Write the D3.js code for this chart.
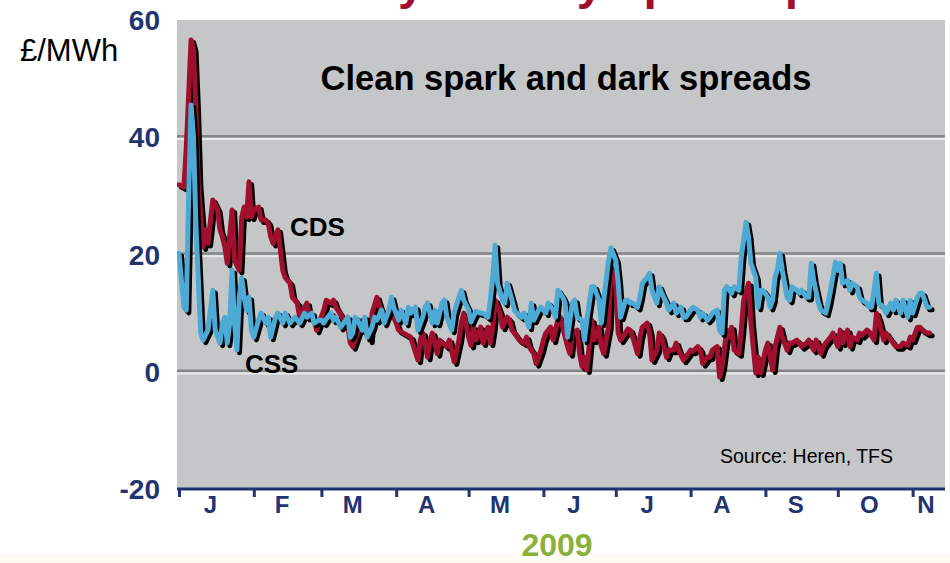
<!DOCTYPE html>
<html>
<head>
<meta charset="utf-8">
<script src="https://cdn.jsdelivr.net/npm/d3@7"></script>
<style>
  html, body { margin: 0; padding: 0; background: #ffffff; }
  svg { display: block; font-family: "Liberation Sans", Arial, sans-serif; }
</style>
</head>
<body>
<svg id="chart" width="950" height="563"></svg>
<script>
// ---- data -------------------------------------------------------------
const pageTitle = "Volatility in daily spark spreads";
const chartTitle = "Clean spark and dark spreads";
const unitLabel = "£/MWh";
const sourceNote = "Source: Heren, TFS";
const yearLabel = "2009";
const monthLabels = ["J", "F", "M", "A", "M", "J", "J", "A", "S", "O", "N"];
const yTickValues = [60, 40, 20, 0, -20];
const gridValues = [40, 20, 0];

// Clean dark spread (coal), £/MWh, by day of 2009 (0 = 1 January)
const cdsDays = [0,2,3,5,6,7,8,10,11,12,14,16,17,18,19,20,22,23,25,26,27,28,29,30,31,33,34,36,37,38,39,41,42,43,44,46,47,48,49,50,52,53,54,56,57,58,60,61,63,64,65,67,70,71,72,74,75,76,78,79,80,82,84,87,89,90,91,93,96,99,100,101,103,104,105,107,108,111,112,114,116,117,118,120,121,122,123,125,126,128,129,130,131,133,134,136,137,138,141,143,144,145,147,148,150,151,152,154,155,157,158,159,161,162,163,165,166,167,168,169,171,172,174,175,176,178,179,181,182,183,185,186,187,188,190,191,192,194,195,196,198,199,200,202,203,205,206,207,209,210,212,213,215,216,217,219,220,221,223,224,225,227,228,229,230,232,233,234,236,237,239,240,241,243,244,246,247,249,250,252,253,254,256,257,258,260,261,263,264,266,267,268,270,271,273,274,275,277,278,279,281,282,283,285,286,288,289,290,292,293,295,296,297,299,300,302,303,304,306,307,308,310,311];
const cdsValues = [31.9,31.5,38,56.6,55,45,32,21.3,24.2,21.9,29.3,27.6,24.2,23.0,21.3,18.5,27.6,19.0,17.3,26.4,28.1,26.4,32.4,26.4,27.6,28.1,25.9,25.9,25.3,23.0,21.9,24.2,20.8,17.3,16.1,15.1,12.7,12.2,11.7,9.3,11.0,11.7,9.3,8.8,7.1,8.3,10.5,12.2,11.7,12.2,11.0,9.7,7.6,4.9,4.3,6.6,7.6,8.8,8.8,5.4,10.0,12.7,10.0,10.0,9.3,8.3,7.1,6.6,5.9,2.0,5.4,6.6,2.5,5.4,6.6,3.1,5.4,4.3,5.4,1.7,5.4,8.3,10.0,5.9,4.5,7.6,5.4,7.6,4.9,7.6,4.9,7.6,12.2,10.0,7.6,9.3,8.8,7.1,5.4,4.9,5.9,4.3,3.1,1.4,3.7,5.4,6.6,7.6,5.4,8.8,9.3,7.6,4.3,3.1,6.6,7.1,3.1,0.9,2.5,0.3,8.8,5.4,7.6,4.3,3.1,7.6,17.9,14.5,6.6,5.4,6.6,7.3,7.1,5.9,3.1,5.9,7.6,8.3,6.6,2.0,3.7,6.6,5.9,2.5,3.7,3.7,4.9,3.7,2.0,2.5,3.7,3.5,4.3,3.7,1.4,2.5,2.5,3.7,4.3,-0.9,0.8,7.1,5.9,7.6,3.7,3.1,7.1,12.2,15.1,8.3,-0.2,2.5,-0.2,3.7,4.9,0.3,4.3,7.6,5.9,3.7,4.9,4.9,5.4,4.9,4.3,4.9,5.4,3.7,5.4,3.1,4.3,4.9,5.9,6.6,4.3,7.1,4.9,7.1,4.3,5.9,5.4,6.6,6.2,7.1,6.8,5.4,10.0,8.8,5.4,6.6,5.4,4.9,4.3,4.3,4.9,4.5,5.9,5.4,7.6,7.6,7.1,6.6,6.6];

// Clean spark spread (gas), £/MWh, by day of 2009
const cssDays = [0,2,3,4,5,6,7,9,10,12,13,14,15,17,18,19,20,21,22,23,24,25,26,27,28,29,30,31,33,34,36,37,38,40,41,43,44,46,48,50,52,53,55,56,58,59,60,61,63,64,65,67,70,71,72,73,74,76,77,78,80,81,82,84,85,87,88,89,91,92,94,95,96,98,99,101,102,103,105,106,107,109,110,111,113,114,116,117,118,120,121,123,125,126,128,129,130,131,132,134,135,136,138,139,140,142,143,145,146,147,149,150,152,153,155,156,157,159,160,161,163,164,165,167,168,169,171,172,174,175,176,178,179,181,182,183,185,186,187,188,190,191,192,194,195,196,198,199,200,202,203,205,206,208,209,210,212,213,215,216,217,219,220,221,223,224,225,226,227,229,230,232,233,235,236,237,239,240,241,242,244,245,246,247,248,249,250,252,253,254,256,257,258,260,261,262,263,265,266,268,269,270,272,273,274,275,277,278,279,281,282,283,285,286,287,289,290,292,293,295,296,297,299,300,302,303,304,306,307,308,310,311];
const cssValues = [20.2,11.0,10.5,30,45.5,40,25,6.6,5.4,7.1,10.5,13.9,7.1,4.9,8.3,9.3,4.9,8.3,17.3,8.3,3.7,12.7,16.0,12.7,10.5,12.7,7.1,5.9,8.8,10.0,8.3,9.3,5.9,9.3,10.0,8.3,10.0,8.3,9.3,8.3,10.0,9.3,10.0,8.3,8.8,8.8,8.3,9.0,10.0,8.8,9.3,7.6,9.3,5.9,6.6,9.3,8.8,7.1,9.3,5.9,7.6,9.3,8.8,10.5,8.3,10.5,12.7,11.0,8.8,10.5,8.3,11.0,10.0,11.0,7.1,9.3,11.0,11.7,8.3,10.5,8.3,11.7,12.2,9.3,7.1,10.0,12.7,13.9,12.2,10.5,8.5,10.3,10.0,10.0,9.3,12.2,16.1,21.6,15.1,12.2,11.7,15.1,12.2,10.5,10.0,9.3,10.0,7.6,11.7,8.8,10.5,11.0,10.0,11.7,10.5,9.3,13.9,12.7,11.7,5.9,11.7,12.2,9.3,8.8,5.4,8.8,14.5,14.5,12.2,8.3,12.2,19.0,21.1,19.0,15.1,9.3,12.2,12.2,11.7,11.7,11.0,12.7,15.1,16.1,16.8,13.9,11.7,14.5,13.4,11.7,10.5,11.7,10.0,11.0,9.3,9.3,10.5,11.0,10.5,9.3,10.0,8.8,9.3,10.0,10.5,7.1,6.6,13.9,14.5,13.4,14.5,13.9,19.6,25.5,23.0,18.5,16.1,11.0,13.9,13.9,12.7,11.0,12.2,16.1,17.5,20.2,17.3,12.7,12.2,14.5,13.9,13.4,13.9,12.7,12.7,18.5,15.6,11.7,10.5,10.0,11.7,13.9,18.7,17.3,18.5,15.1,15.6,13.9,15.1,14.5,12.7,12.2,11.7,11.0,11.0,16.8,11.7,11.0,10.0,11.7,10.5,12.2,10.0,12.2,9.3,12.2,10.0,12.7,13.4,13.4,11.0,11.0];

// ---- layout -----------------------------------------------------------
const svg = d3.select("#chart");
const W = 950, H = 563;
const plot = { left: 177, right: 945, top: 20, bottom: 489 };
const navy = "#1f3471";
const red = "#a0102e";
const blue = "#4caad4";

const dayToDate = d => new Date(2009, 0, 1 + d);
const startDate = new Date(2009, 0, 1);
const endDate = new Date(2009, 10, 14);

const x = d3.scaleTime().domain([startDate, endDate]).range([179, 944]);
const y = d3.scaleLinear().domain([-20, 60]).range([plot.bottom, plot.top]);

const cds = cdsDays.map((d, i) => ({ date: dayToDate(d), value: cdsValues[i] }));
const css = cssDays.map((d, i) => ({ date: dayToDate(d), value: cssValues[i] }));

// faint band along the foot of the slide
svg.append("rect").attr("x", 0).attr("y", 554).attr("width", W).attr("height", H - 554)
  .attr("fill", "#fcfcf4");

// slide heading running off the top edge: only its descenders fall on the page
const headingSize = 48;
const heading = svg.append("text")
  .attr("fill", red).attr("font-weight", "bold").attr("font-size", headingSize)
  .attr("x", 0).attr("y", -1).text(pageTitle);
{
  const node = heading.node();
  const off = node.getStartPositionOfChar(pageTitle.indexOf("y")).x;
  heading.attr("x", 398 - off);
}

// plot background
svg.append("rect")
  .attr("x", plot.left).attr("y", plot.top)
  .attr("width", plot.right - plot.left).attr("height", plot.bottom - plot.top)
  .attr("fill", "#c5c6c8");

// gridlines: dark rule with a light highlight underneath
const grid = svg.append("g");
gridValues.forEach(v => {
  grid.append("line").attr("x1", plot.left).attr("x2", plot.right)
    .attr("y1", y(v) - 1).attr("y2", y(v) - 1)
    .attr("stroke", "#848587").attr("stroke-width", 2.6);
  grid.append("line").attr("x1", plot.left).attr("x2", plot.right)
    .attr("y1", y(v) + 1.8).attr("y2", y(v) + 1.8)
    .attr("stroke", "#e9e9ea").attr("stroke-width", 2);
});

// series lines with offset drop shadows
const line = d3.line().x(d => x(d.date)).y(d => y(d.value));
svg.append("clipPath").attr("id", "plotClip").append("rect")
  .attr("x", plot.left).attr("y", plot.top)
  .attr("width", plot.right - plot.left).attr("height", plot.bottom - plot.top);
const lines = svg.append("g").attr("clip-path", "url(#plotClip)");
[[cds, red], [css, blue]].forEach(([series, colour]) => {
  lines.append("path").datum(series).attr("d", line)
    .attr("transform", "translate(2.6,2.6)")
    .attr("fill", "none").attr("stroke", "#000").attr("stroke-width", 5)
    .attr("stroke-linejoin", "round").attr("stroke-linecap", "round");
  lines.append("path").datum(series).attr("d", line)
    .attr("fill", "none").attr("stroke", colour).attr("stroke-width", 5)
    .attr("stroke-linejoin", "round").attr("stroke-linecap", "round");
});

// x axis: month boundary ticks
const monthStarts = d3.timeMonth.range(startDate, endDate);
const xAxis = d3.axisBottom(x)
  .tickValues(monthStarts)
  .tickFormat("").tickSize(8).tickSizeOuter(0);
const gx = svg.append("g").attr("transform", `translate(0,${plot.bottom})`).call(xAxis);
gx.select(".domain").remove();
gx.selectAll(".tick line").attr("stroke", navy).attr("stroke-width", 3);
svg.append("line").attr("x1", plot.left).attr("x2", plot.right)
  .attr("y1", plot.bottom).attr("y2", plot.bottom)
  .attr("stroke", navy).attr("stroke-width", 3);

// month initials placed within each month
svg.append("g").selectAll("text").data(monthLabels).join("text")
  .attr("x", (m, i) => {
    const a = monthStarts[i];
    const b = i + 1 < monthStarts.length ? monthStarts[i + 1] : endDate;
    return x(a) + 0.42 * (x(b) - x(a));
  })
  .attr("y", 513)
  .attr("text-anchor", "middle").attr("font-weight", "bold").attr("font-size", 24)
  .attr("fill", navy).text(m => m);

// y tick labels
svg.append("g").selectAll("text").data(yTickValues).join("text")
  .attr("x", 160).attr("y", v => y(v) + 10)
  .attr("text-anchor", "end").attr("font-weight", "bold").attr("font-size", 28)
  .attr("fill", navy).text(v => v);

// unit, titles and notes
svg.append("text").attr("x", 20).attr("y", 61).attr("font-size", 31)
  .attr("fill", "#000").text(unitLabel);
svg.append("text").attr("x", 566).attr("y", 90).attr("text-anchor", "middle")
  .attr("font-weight", "bold").attr("font-size", 34.5).attr("fill", "#000").text(chartTitle);
svg.append("text").attr("x", 290).attr("y", 236).attr("font-weight", "bold")
  .attr("font-size", 26).attr("fill", "#000").text("CDS");
svg.append("text").attr("x", 245).attr("y", 373).attr("font-weight", "bold")
  .attr("font-size", 26).attr("fill", "#000").text("CSS");
svg.append("text").attr("x", 893).attr("y", 463).attr("text-anchor", "end")
  .attr("font-size", 19.5).attr("fill", "#000").text(sourceNote);
svg.append("text").attr("x", 557).attr("y", 556).attr("text-anchor", "middle")
  .attr("font-weight", "bold").attr("font-size", 32).attr("fill", "#8bb03c").text(yearLabel);
</script>
</body>
</html>
